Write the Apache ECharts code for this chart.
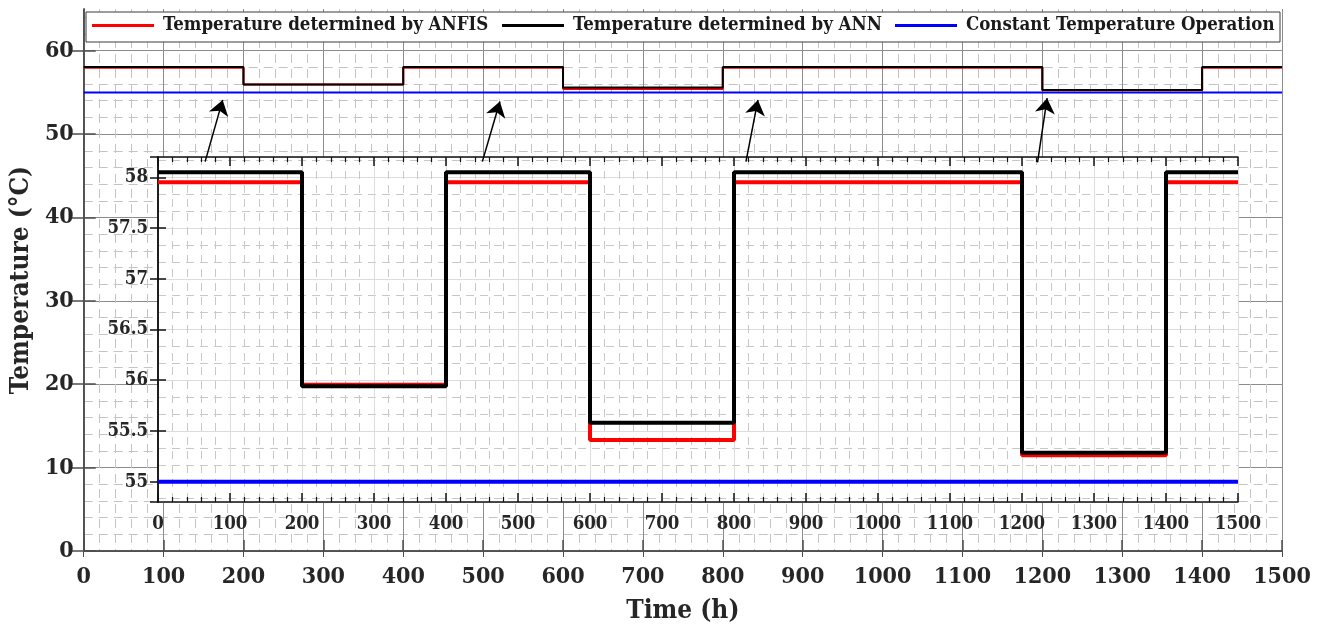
<!DOCTYPE html>
<html>
<head>
<meta charset="utf-8">
<script src="https://cdn.jsdelivr.net/npm/echarts@6/dist/echarts.min.js"></script>
<style>
  html, body { margin: 0; padding: 0; background: #ffffff; }
  #chart { width: 1328px; height: 629px; }
</style>
</head>
<body>
<div id="chart"></div>
<script>
// Operating schedule: step changes happen at these hours
const hours = [0, 200, 400, 600, 800, 1200, 1400, 1500];
// Set-point temperature (°C) held from each hour until the next one
const tempAnfis = [57.95, 55.955, 57.95, 55.41, 57.95, 55.26, 57.95, 57.95];
const tempAnn = [58.05, 55.94, 58.05, 55.58, 58.05, 55.285, 58.05, 58.05];
const tempConstant = [55, 55, 55, 55, 55, 55, 55, 55];

// Temperature ticks of the full-scale axis
const mainTempTicks = [0, 10, 20, 30, 40, 50, 60];

const seriesNames = [
  'Temperature determined by ANFIS',
  'Temperature determined by ANN',
  'Constant Temperature Operation'
];
const seriesColors = ['#ff0000', '#000000', '#0000ff'];

// Callout arrows from the zoomed panel to the full-scale curves: [tail, head] as [h, °C]
const calloutArrows = [
  [[152, 46.7], [174, 54.1]],
  [[499, 46.7], [521, 53.9]],
  [[829, 46.7], [844, 54.1]],
  [[1194, 46.6], [1206, 54.3]]
];

const FONT = "'DejaVu Serif Condensed', 'DejaVu Serif', serif";
const TXT = '#262626';
const plain = v => String(v);

const pairs = vals => hours.map((h, i) => [h, vals[i]]);

const chart = echarts.init(document.getElementById('chart'), null, { renderer: 'canvas' });

const mainGridStyle = {
  splitLine: { show: true, lineStyle: { color: '#8c8c8c', width: 1 } },
  minorSplitLine: { show: true, lineStyle: { color: '#c4c4c4', width: 1, type: [9, 6] } }
};
const insetGridStyle = {
  splitLine: { show: true, lineStyle: { color: '#dcdcdc', width: 1 } },
  minorSplitLine: { show: true, lineStyle: { color: '#c8c8c8', width: 1, type: [8, 6] } }
};

const option = {
  animation: false,
  backgroundColor: '#ffffff',
  grid: [
    { left: 83, right: 46, top: 9, bottom: 77, containLabel: false },
    { left: 158, right: 90, top: 157, bottom: 127, containLabel: false,
      show: true, backgroundColor: '#ffffff', borderWidth: 0, z: 2 }
  ],
  xAxis: [
    {
      gridIndex: 0, type: 'value', min: 0, max: 1500, interval: 100, position: 'bottom',
      axisLine: { lineStyle: { color: '#4d4d4d', width: 1.5 } },
      axisTick: { inside: true, length: 11, lineStyle: { color: '#4d4d4d', width: 1.5 } },
      minorTick: { show: false, splitNumber: 5 },
      axisLabel: { fontSize: 23, fontWeight: 'bold', color: TXT, fontFamily: FONT, margin: 15, formatter: plain },
      name: 'Time (h)', nameLocation: 'middle', nameGap: 47,
      nameTextStyle: { fontSize: 26, fontWeight: 'bold', color: TXT, fontFamily: FONT },
      ...mainGridStyle
    },
    {
      gridIndex: 0, type: 'value', min: 0, max: 1500, interval: 100, position: 'top',
      axisLine: { lineStyle: { color: '#4d4d4d', width: 1.5 } },
      axisTick: { inside: true, length: 6, lineStyle: { color: '#4d4d4d', width: 1 } },
      axisLabel: { show: false }, splitLine: { show: false }
    },
    {
      gridIndex: 1, type: 'value', min: 0, max: 1500, interval: 100, position: 'bottom', z: 3,
      axisLine: { lineStyle: { color: '#111111', width: 1.5 } },
      axisTick: { inside: true, length: 9, lineStyle: { color: '#111111', width: 1.5 } },
      minorTick: { show: true, splitNumber: 5, length: 5, lineStyle: { color: '#111111', width: 1.2 } },
      axisLabel: { fontSize: 18.5, fontWeight: 'bold', color: TXT, fontFamily: FONT, margin: 13, formatter: plain },
      ...insetGridStyle
    },
    {
      gridIndex: 1, type: 'value', min: 0, max: 1500, interval: 100, position: 'top', z: 3,
      axisLine: { lineStyle: { color: '#111111', width: 1.5 } },
      axisTick: { inside: true, length: 9, lineStyle: { color: '#111111', width: 1.5 } },
      minorTick: { show: true, splitNumber: 5, length: 5, lineStyle: { color: '#111111', width: 1.2 } },
      axisLabel: { show: false }, splitLine: { show: false }
    }
  ],
  yAxis: [
    {
      gridIndex: 0, type: 'value', min: 0, max: 65, interval: 10, position: 'left',
      axisLine: { show: true, lineStyle: { color: '#4d4d4d', width: 1.5 } },
      axisTick: { show: true, inside: true, length: 12, customValues: mainTempTicks,
        lineStyle: { color: '#4d4d4d', width: 1.5 } },
      minorTick: { show: false, splitNumber: 5 },
      axisLabel: { fontSize: 23, fontWeight: 'bold', color: TXT, fontFamily: FONT, margin: 10,
        showMaxLabel: false, formatter: plain },
      name: 'Temperature (°C)', nameLocation: 'middle', nameGap: 46, nameRotate: 90,
      nameTextStyle: { fontSize: 26, fontWeight: 'bold', color: TXT, fontFamily: FONT },
      ...mainGridStyle
    },
    {
      gridIndex: 0, type: 'value', min: 0, max: 65, interval: 10, position: 'right',
      axisLine: { show: true, lineStyle: { color: '#4d4d4d', width: 1.5 } },
      axisTick: { show: true, inside: true, length: 12, customValues: mainTempTicks,
        lineStyle: { color: '#4d4d4d', width: 1.5 } },
      axisLabel: { show: false }, splitLine: { show: false }
    },
    {
      gridIndex: 1, type: 'value', min: 54.8, max: 58.2, splitNumber: 7, position: 'left', z: 3,
      axisLine: { show: true, lineStyle: { color: '#111111', width: 1.5 } },
      axisTick: { show: true, inside: true, length: 8, lineStyle: { color: '#111111', width: 1.5 } },
      minorTick: { show: false, splitNumber: 3 },
      axisLabel: { fontSize: 18.5, fontWeight: 'bold', color: TXT, fontFamily: FONT, margin: 10,
        showMinLabel: false, showMaxLabel: false },
      ...insetGridStyle
    },
    {
      gridIndex: 1, type: 'value', min: 54.8, max: 58.2, splitNumber: 7, position: 'right', z: 3,
      axisLine: { show: true, lineStyle: { color: '#111111', width: 1.5 } },
      axisTick: { show: true, inside: true, length: 8, lineStyle: { color: '#111111', width: 1.5 } },
      axisLabel: { show: false }, splitLine: { show: false }
    }
  ],
  legend: [0, 1, 2].map((k, idx) => ({
    data: [seriesNames[k]],
    left: [92, 502, 895][idx],
    top: 16,
    padding: 0,
    itemWidth: 62,
    itemHeight: 3,
    icon: 'rect',
    itemGap: 0,
    z: 20,
    selectedMode: false,
    textStyle: { fontSize: 18.5, fontWeight: 'bold', color: '#1a1a1a', fontFamily: FONT, padding: [0, 0, 0, 4] }
  })),
  graphic: [
    {
      type: 'rect', z: 15, silent: true,
      shape: { x: 86, y: 12, width: 1194, height: 30 },
      style: { fill: '#ffffff', stroke: '#3a3a3a', lineWidth: 1 }
    }
  ],
  series: [
    {
      name: seriesNames[2], type: 'line', xAxisIndex: 0, yAxisIndex: 0,
      data: pairs(tempConstant), step: 'end', showSymbol: false, z: 3,
      lineStyle: { color: seriesColors[2], width: 2 }, itemStyle: { color: seriesColors[2] },
      markLine: {
        silent: true, symbol: ['none', 'arrow'], symbolSize: 15,
        lineStyle: { color: '#000000', width: 1.5, type: 'solid' },
        itemStyle: { color: '#000000' },
        label: { show: false },
        data: calloutArrows.map(([a, b]) => [{ coord: a }, { coord: b }])
      }
    },
    {
      name: seriesNames[0], type: 'line', xAxisIndex: 0, yAxisIndex: 0,
      data: pairs(tempAnfis), step: 'end', showSymbol: false, z: 3,
      lineStyle: { color: seriesColors[0], width: 2 }, itemStyle: { color: seriesColors[0] }
    },
    {
      name: seriesNames[1], type: 'line', xAxisIndex: 0, yAxisIndex: 0,
      data: pairs(tempAnn), step: 'end', showSymbol: false, z: 4,
      lineStyle: { color: seriesColors[1], width: 2 }, itemStyle: { color: seriesColors[1] }
    },
    {
      name: seriesNames[2], type: 'line', xAxisIndex: 2, yAxisIndex: 2,
      data: pairs(tempConstant), step: 'end', showSymbol: false, z: 6,
      lineStyle: { color: seriesColors[2], width: 4 }, itemStyle: { color: seriesColors[2] }
    },
    {
      name: seriesNames[0], type: 'line', xAxisIndex: 2, yAxisIndex: 2,
      data: pairs(tempAnfis), step: 'end', showSymbol: false, z: 6,
      lineStyle: { color: seriesColors[0], width: 4 }, itemStyle: { color: seriesColors[0] }
    },
    {
      name: seriesNames[1], type: 'line', xAxisIndex: 2, yAxisIndex: 2,
      data: pairs(tempAnn), step: 'end', showSymbol: false, z: 7,
      lineStyle: { color: seriesColors[1], width: 4 }, itemStyle: { color: seriesColors[1] }
    }
  ]
};

chart.setOption(option);
</script>
</body>
</html>
